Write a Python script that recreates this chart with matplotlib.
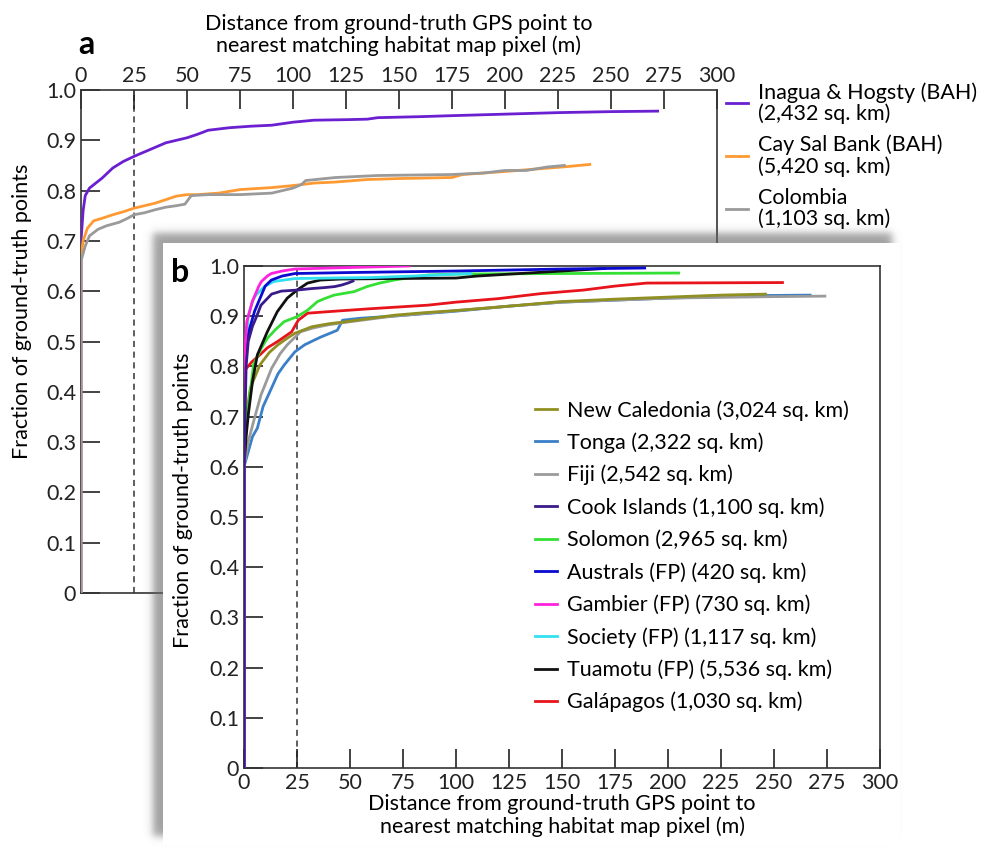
import numpy as np
import matplotlib
matplotlib.use("Agg")
import matplotlib.pyplot as plt

plt.rcParams['font.family'] = ['Lato', 'DejaVu Sans']
plt.rcParams['font.size'] = 15.5

# ---- panel a data (distance m, cumulative fraction) ----
inagua_x = [0, 0, 1, 2, 4, 7, 10, 15, 20, 25, 30, 35, 40, 45, 50, 55, 60, 70, 80, 90,
            100, 110, 125, 135, 140, 160, 175, 200, 225, 250, 272]
inagua_y = [0, 0.70, 0.76, 0.79, 0.805, 0.815, 0.825, 0.845, 0.858, 0.868, 0.877, 0.886,
            0.895, 0.90, 0.905, 0.912, 0.92, 0.925, 0.928, 0.93, 0.936, 0.94, 0.941, 0.942,
            0.945, 0.947, 0.949, 0.952, 0.955, 0.957, 0.958]
caysal_x = [0, 0, 1, 3, 6, 10, 15, 20, 25, 30, 35, 40, 45, 50, 55, 65, 75, 90, 100, 110,
            120, 135, 150, 175, 180, 200, 215, 230, 240]
caysal_y = [0, 0.67, 0.70, 0.725, 0.74, 0.745, 0.752, 0.758, 0.765, 0.77, 0.775, 0.782,
            0.789, 0.792, 0.792, 0.795, 0.802, 0.806, 0.81, 0.815, 0.817, 0.822, 0.824,
            0.826, 0.832, 0.838, 0.843, 0.848, 0.852]
colombia_x = [0, 0, 2, 4, 8, 12, 18, 22, 25, 30, 35, 40, 45, 49, 52, 60, 75, 90, 100, 104,
              106, 120, 140, 175, 190, 200, 210, 220, 228]
colombia_y = [0, 0.66, 0.69, 0.71, 0.723, 0.73, 0.737, 0.745, 0.752, 0.756, 0.762, 0.767,
              0.77, 0.773, 0.79, 0.792, 0.792, 0.795, 0.805, 0.812, 0.82, 0.826, 0.83, 0.832,
              0.835, 0.84, 0.84, 0.847, 0.85]

# ---- panel b data ----
newcal_x = [0, 0, 1, 3, 7.5, 12, 16, 20, 24, 32, 40, 48, 60, 71, 85, 102, 125, 149, 175, 200, 225, 246]
newcal_y = [0, 0.62, 0.70, 0.757, 0.803, 0.828, 0.843, 0.855, 0.866, 0.879, 0.885, 0.889,
            0.896, 0.902, 0.907, 0.912, 0.92, 0.929, 0.934, 0.938, 0.942, 0.944]
tonga_x = [0, 0, 2, 4, 6.3, 9, 13, 16, 19, 24, 28.6, 33, 36.5, 40, 44, 46.5, 55, 70, 100,
           125, 150, 200, 240, 267]
tonga_y = [0, 0.60, 0.63, 0.66, 0.677, 0.72, 0.757, 0.785, 0.803, 0.829, 0.843, 0.852, 0.859,
           0.865, 0.872, 0.892, 0.896, 0.90, 0.91, 0.92, 0.928, 0.936, 0.941, 0.942]
fiji_x = [0, 0, 2, 4.5, 8, 13, 17, 20.4, 26.7, 33, 40, 50, 70, 100, 125, 150, 200, 250, 274]
fiji_y = [0, 0.60, 0.65, 0.69, 0.743, 0.796, 0.825, 0.843, 0.869, 0.877, 0.883, 0.889, 0.90,
          0.911, 0.92, 0.928, 0.936, 0.939, 0.940]
cook_x = [0, 0, 1, 2, 4, 6, 8, 13, 17.6, 25, 31.8, 38, 42.8, 46, 49, 51.4]
cook_y = [0, 0.60, 0.80, 0.85, 0.88, 0.90, 0.922, 0.944, 0.95, 0.952, 0.955, 0.957, 0.959,
          0.962, 0.966, 0.97]
solomon_x = [0, 0, 1.3, 4.5, 8, 11, 15, 18.9, 25, 30, 34.6, 38, 42.5, 52, 58, 64, 70.8, 80,
             86.6, 100, 150, 205]
solomon_y = [0, 0.62, 0.69, 0.803, 0.835, 0.856, 0.874, 0.889, 0.899, 0.912, 0.929, 0.935,
             0.942, 0.949, 0.959, 0.966, 0.972, 0.978, 0.982, 0.984, 0.985, 0.986]
australs_x = [0, 0, 1, 2.7, 5, 8.2, 10, 12.9, 18, 24, 50, 100, 150, 189]
australs_y = [0, 0.70, 0.84, 0.876, 0.91, 0.942, 0.96, 0.972, 0.98, 0.985, 0.987, 0.99,
              0.994, 0.996]
gambier_x = [0, 0, 1.3, 4, 7, 8.2, 11, 12.9, 18, 24, 50, 78]
gambier_y = [0, 0.80, 0.889, 0.93, 0.96, 0.969, 0.98, 0.985, 0.99, 0.994, 0.997, 1.0]
society_x = [0, 0, 1, 2, 4, 5.6, 9.6, 14, 24, 40, 60, 80, 107]
society_y = [0, 0.75, 0.85, 0.90, 0.93, 0.942, 0.959, 0.969, 0.975, 0.976, 0.977, 0.98, 0.985]
tuamotu_x = [0, 0, 1, 2, 4, 6.3, 11, 15.7, 20.4, 25, 30, 36, 45.6, 70, 100, 110, 130, 150, 170]
tuamotu_y = [0, 0.60, 0.66, 0.703, 0.77, 0.823, 0.869, 0.909, 0.936, 0.952, 0.966, 0.972,
             0.974, 0.975, 0.976, 0.98, 0.985, 0.99, 0.995]
galap_x = [0, 0, 1.3, 3.7, 8, 11, 16, 22.5, 25.6, 30, 39.6, 60, 86.8, 100, 120, 140, 160,
           175, 190, 254]
galap_y = [0, 0.79, 0.797, 0.809, 0.825, 0.837, 0.85, 0.869, 0.892, 0.906, 0.909, 0.915,
           0.922, 0.928, 0.935, 0.945, 0.952, 0.96, 0.966, 0.967]

labels_a = ['Inagua & Hogsty (BAH)\n(2,432 sq. km)', 'Cay Sal Bank (BAH)\n(5,420 sq. km)',
            'Colombia\n(1,103 sq. km)']
colors_a = ['#6a1fd1', '#ff9a33', '#9a9a9a']
series_a = [(inagua_x, inagua_y), (caysal_x, caysal_y), (colombia_x, colombia_y)]

labels_b = ['New Caledonia (3,024 sq. km)', 'Tonga (2,322 sq. km)', 'Fiji (2,542 sq. km)',
            'Cook Islands (1,100 sq. km)', 'Solomon (2,965 sq. km)', 'Australs (FP) (420 sq. km)',
            'Gambier (FP) (730 sq. km)', 'Society (FP) (1,117 sq. km)',
            'Tuamotu (FP) (5,536 sq. km)', 'Galápagos (1,030 sq. km)']
colors_b = ['#8f8f22', '#3a7fc8', '#9a9a9a', '#3b1a8a', '#33e033', '#0a0ad0', '#ff22dd',
            '#33e0f0', '#111111', '#e8141c']
series_b = [(newcal_x, newcal_y), (tonga_x, tonga_y), (fiji_x, fiji_y), (cook_x, cook_y),
            (solomon_x, solomon_y), (australs_x, australs_y), (gambier_x, gambier_y),
            (society_x, society_y), (tuamotu_x, tuamotu_y), (galap_x, galap_y)]
# draw order (back to front) for panel b
order_b = [1, 2, 0, 9, 4, 8, 7, 5, 6, 3]

xticks = np.arange(0, 301, 25)
yticks = np.arange(0, 1.01, 0.1)
ytick_labels = ['0'] + ['%.1f' % v for v in yticks[1:]]
xlabel = 'Distance from ground-truth GPS point to\nnearest matching habitat map pixel (m)'
ylabel = 'Fraction of ground-truth points'

W, H = 994, 857
fig = plt.figure(figsize=(W / 100, H / 100), dpi=100)


def style_axes(ax):
    ax.set_xlim(0, 300)
    ax.set_ylim(0, 1.0)
    ax.set_xticks(xticks)
    ax.set_yticks(yticks)
    ax.set_yticklabels(ytick_labels)
    ax.tick_params(direction='in', length=14, width=1.2, colors='#222222', labelsize=15.5)
    for sp in ax.spines.values():
        sp.set_linewidth(1.2)
        sp.set_color('#333333')
    ax.axvline(25, color='#333333', lw=1.1, ls=(0, (4, 3)), zorder=1)


# ---- panel a ----
ax_a = fig.add_axes([81 / W, 1 - 593 / H, 636 / W, 503 / H], zorder=0)
style_axes(ax_a)
ax_a.xaxis.tick_top()
ax_a.xaxis.set_label_position('top')
ax_a.tick_params(axis='x', pad=3)
ax_a.set_xlabel(xlabel, labelpad=10, linespacing=1.1)
ax_a.set_ylabel(ylabel)
ax_a.yaxis.set_label_coords(-0.077, 0.56)
handles_a = []
for (x, y), c in zip(series_a, colors_a):
    h, = ax_a.plot(x, y, color=c, lw=2, zorder=3)
    handles_a.append(h)
leg_a = ax_a.legend(handles_a, labels_a, loc='upper left', bbox_to_anchor=(726 / W, 1 - 82 / H),
                    bbox_transform=fig.transFigure, frameon=False, handlelength=1.0,
                    handletextpad=0.5, labelspacing=0.5, borderpad=0, borderaxespad=0)
for t in leg_a.get_texts():
    t.set_linespacing(1.05)
fig.text(86 / W, 1 - 45 / H, 'a', fontsize=23, fontweight='bold', ha='center', va='center')

# ---- drop-shadow backdrop for panel b ----
yy, xx = np.mgrid[0:H, 0:W] + 0.5


def soft(z):
    return 1.0 / (1.0 + np.exp(-1.702 * z))


s = 4.0
shadow = (soft((xx - 153) / s) - soft((xx - 892) / s)) * (soft((yy - 233) / s) - soft((yy - 836) / s))
inside = (xx >= 163) & (xx <= 900) & (yy >= 243) & (yy <= 845)
rgba = np.zeros((H, W, 4))
rgba[..., :3] = 0.4
rgba[..., 3] = 0.62 * shadow
rgba[inside] = [1, 1, 1, 1]
ax_bg = fig.add_axes([0, 0, 1, 1], zorder=1)
ax_bg.imshow(rgba, extent=[0, W, H, 0], aspect='auto', interpolation='bilinear')
ax_bg.set_xlim(0, W)
ax_bg.set_ylim(H, 0)
ax_bg.axis('off')

# ---- panel b ----
ax_b = fig.add_axes([244 / W, 1 - 768 / H, 636 / W, 502 / H], zorder=2)
ax_b.patch.set_alpha(0)
style_axes(ax_b)
ax_b.set_xlabel(xlabel, labelpad=1, linespacing=1.1)
ax_b.set_ylabel(ylabel)
ax_b.yaxis.set_label_coords(-0.080, 0.534)
handles_b = [None] * len(series_b)
for i in order_b:
    x, y = series_b[i]
    h, = ax_b.plot(x, y, color=colors_b[i], lw=2, zorder=3)
    handles_b[i] = h
ax_b.legend(handles_b, labels_b, loc='upper left', bbox_to_anchor=(535 / W, 1 - 400 / H),
            bbox_transform=fig.transFigure, frameon=False, handlelength=1.0, handletextpad=0.5,
            labelspacing=0.55, borderpad=0, borderaxespad=0)
fig.text(180 / W, 1 - 272 / H, 'b', fontsize=23, fontweight='bold', ha='center', va='center',
         zorder=3)

fig.savefig('out.png', dpi=100)
